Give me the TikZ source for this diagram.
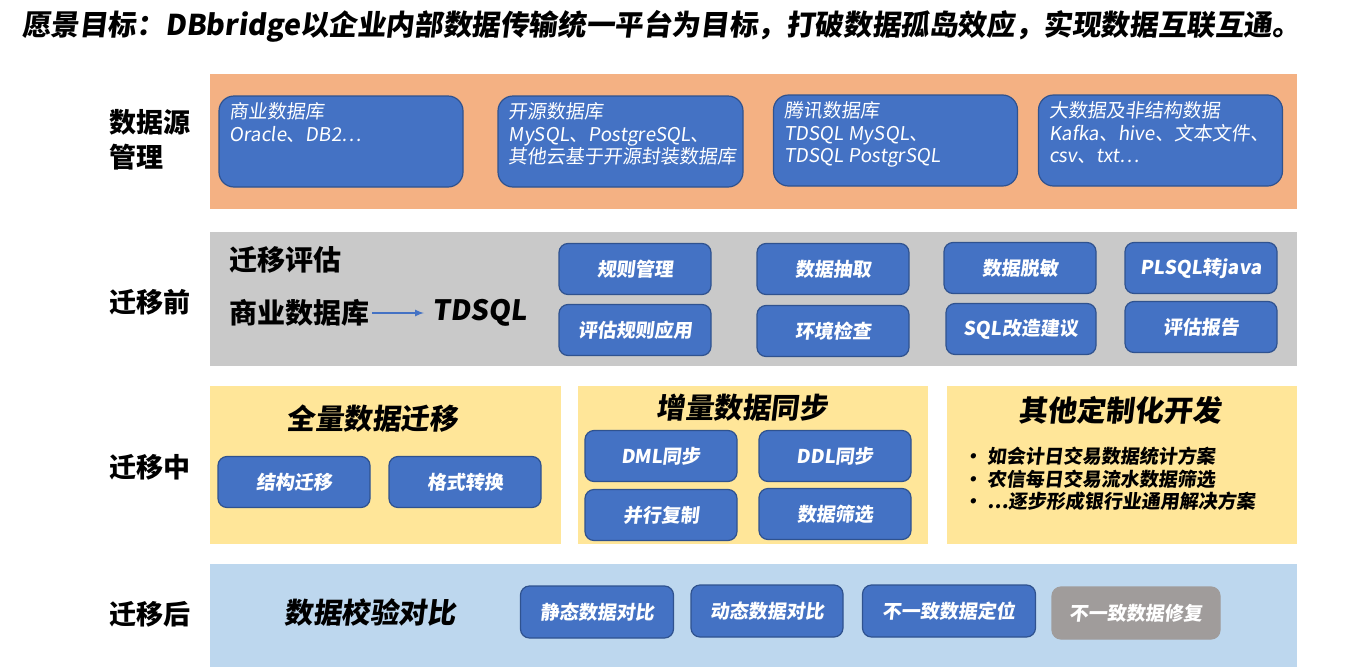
\documentclass[tikz,border=0pt]{standalone}
\usepackage{fontspec}
\setmainfont{Noto Sans CJK SC}
\newfontfamily\slantcjk[FakeSlant=0.12]{Noto Sans CJK SC}
\usepackage{xcolor}
\definecolor{bandorange}{HTML}{F4B183}
\definecolor{bandgray}{HTML}{C9C9C9}
\definecolor{bandyellow}{HTML}{FFE699}
\definecolor{bandblue}{HTML}{BDD7EE}
\definecolor{boxblue}{HTML}{4472C4}
\definecolor{boxedge}{HTML}{2F528F}
\definecolor{boxgray}{HTML}{A09C9B}
\usetikzlibrary{positioning,calc}

\begin{document}
\begin{tikzpicture}[x = 1pt, y = -1pt,
  band/.style = {inner sep = 0, outer sep = 0},
  rowlabel/.style = {anchor = west, align = left, font = {\fontsize{27}{35}\selectfont\bfseries}},
  sectitle/.style = {font = {\fontsize{28.5}{32}\selectfont\bfseries\slantcjk}},
  dbbox/.style = {draw = boxedge, fill = boxblue, line width = 1.2pt, rounded corners = 15pt,
    minimum width = 244pt, minimum height = 91pt},
  dbtext/.style = {anchor = north west, align = left, text = white, inner sep = 0,
    font = {\fontsize{19}{22.5}\selectfont\slantcjk}},
  stepbox/.style = {draw = boxedge, fill = boxblue, line width = 1.2pt, rounded corners = 9pt,
    minimum width = 152pt, minimum height = 51pt, text = white,
    font = {\fontsize{19}{22}\selectfont\bfseries\slantcjk}}]
\useasboundingbox (0,0) rectangle (1371,667);
% Title
\node[anchor = west, inner sep = 0, font = {\fontsize{28.6}{32}\selectfont\bfseries\slantcjk}] (title) at (22,26)
  {愿景目标：DBbridge以企业内部数据传输统一平台为目标，打破数据孤岛效应，实现数据互联互通。};
% Bands
\node[band, fill = bandorange, minimum width = 1087pt, minimum height = 135pt] (srcband) at (753.5,141.5) {};
\node[band, fill = bandgray, minimum width = 1087pt, minimum height = 134pt] (preband) at (753.5,299) {};
\node[band, fill = bandyellow, minimum width = 351pt, minimum height = 158pt] (fullband) at (385.5,465) {};
\node[band, fill = bandyellow, minimum width = 350pt, minimum height = 158pt] (incband) at (753,465) {};
\node[band, fill = bandyellow, minimum width = 350pt, minimum height = 158pt] (devband) at (1122,465) {};
\node[band, fill = bandblue, minimum width = 1087pt, minimum height = 103pt] (postband) at (753.5,615.5) {};
% Row labels
\node[rowlabel] (lblsrc) at (106,140) {数据源\\管理};
\node[rowlabel] (lblpre) at (106,302) {迁移前};
\node[rowlabel] (lblmid) at (106,467) {迁移中};
\node[rowlabel] (lblpost) at (106,614) {迁移后};
% Data sources
\node[dbbox] (comdb) at (341,141.5) {};
\node[dbbox, minimum width = 245pt] (opendb) at (620.5,141.5) {};
\node[dbbox] (tencdb) at (895.5,140.5) {};
\node[dbbox] (bigdb) at (1160.5,140.5) {};
\node[dbtext] at ([shift={(11,7)}]comdb.north west) {商业数据库\\Oracle、DB2…};
\node[dbtext] at ([shift={(11,7)}]opendb.north west) {开源数据库\\MySQL、PostgreSQL、\\其他云基于开源封装数据库};
\node[dbtext] at ([shift={(11,7)}]tencdb.north west) {腾讯数据库\\TDSQL MySQL、\\TDSQL PostgrSQL};
\node[dbtext] at ([shift={(11,7)}]bigdb.north west) {大数据及非结构数据\\Kafka、hive、文本文件、\\csv、txt…};
% Before migration
\node[anchor = west, inner sep = 0, font = {\fontsize{28}{32}\selectfont\bfseries}] (assess) at (229,260) {迁移评估};
\node[anchor = west, inner sep = 0, font = {\fontsize{28}{32}\selectfont\bfseries}] (fromdb) at (229,313) {商业数据库};
\node[anchor = west, inner sep = 0, font = {\fontsize{28}{32}\selectfont\bfseries\slantcjk}] (todb) at (432,313) {TDSQL};
\draw[-latex, boxblue, line width = 2pt, shorten <= 3pt, shorten >= 8pt] (fromdb.east) -- (todb.west);
\node[stepbox] (rulemgmt) at (635,269) {规则管理};
\node[stepbox] (ruleapply) at (635,330) {评估规则应用};
\node[stepbox] (extract) at (833,269) {数据抽取};
\node[stepbox] (envcheck) at (833,331) {环境检查};
\node[stepbox] (masking) at (1020,268) {数据脱敏};
\node[stepbox, minimum width = 150pt] (sqladvice) at (1021,329) {SQL改造建议};
\node[stepbox] (plsql) at (1201,268) {PLSQL转java};
\node[stepbox] (report) at (1201,327) {评估报告};
% During migration
\node[sectitle] (fulltitle) at (372,419) {全量数据迁移};
\node[stepbox] (structmig) at (294,482) {结构迁移};
\node[stepbox] (formatconv) at (465,482) {格式转换};
\node[sectitle] (inctitle) at (742,408) {增量数据同步};
\node[stepbox] (dmlsync) at (661,456) {DML同步};
\node[stepbox] (ddlsync) at (835,456) {DDL同步};
\node[stepbox] (parcopy) at (661,515) {并行复制};
\node[stepbox] (filter) at (835,514) {数据筛选};
\node[sectitle, font = {\fontsize{29}{32}\selectfont\bfseries\slantcjk}] (devtitle) at (1120,410) {其他定制化开发};
\node[anchor = north west, align = left, inner sep = 0, font = {\fontsize{19}{22.5}\selectfont\bfseries\slantcjk}] (devlist) at (963,447)
  {\makebox[24pt][l]{•}如会计日交易数据统计方案\\
   \makebox[24pt][l]{•}农信每日交易流水数据筛选\\
   \makebox[24pt][l]{•}…逐步形成银行业通用解决方案};
% After migration
\node[sectitle] (checktitle) at (370,613) {数据校验对比};
\node[stepbox, minimum width = 153pt, minimum height = 52pt] (staticcmp) at (597,612) {静态数据对比};
\node[stepbox, minimum height = 52pt] (dyncmp) at (767,611) {动态数据对比};
\node[stepbox, minimum width = 173pt, minimum height = 52pt] (locate) at (949,611) {不一致数据定位};
\node[stepbox, minimum width = 168pt, minimum height = 52pt, fill = boxgray, draw = boxgray] (repair) at (1136,613) {不一致数据修复};
\end{tikzpicture}
\end{document}
